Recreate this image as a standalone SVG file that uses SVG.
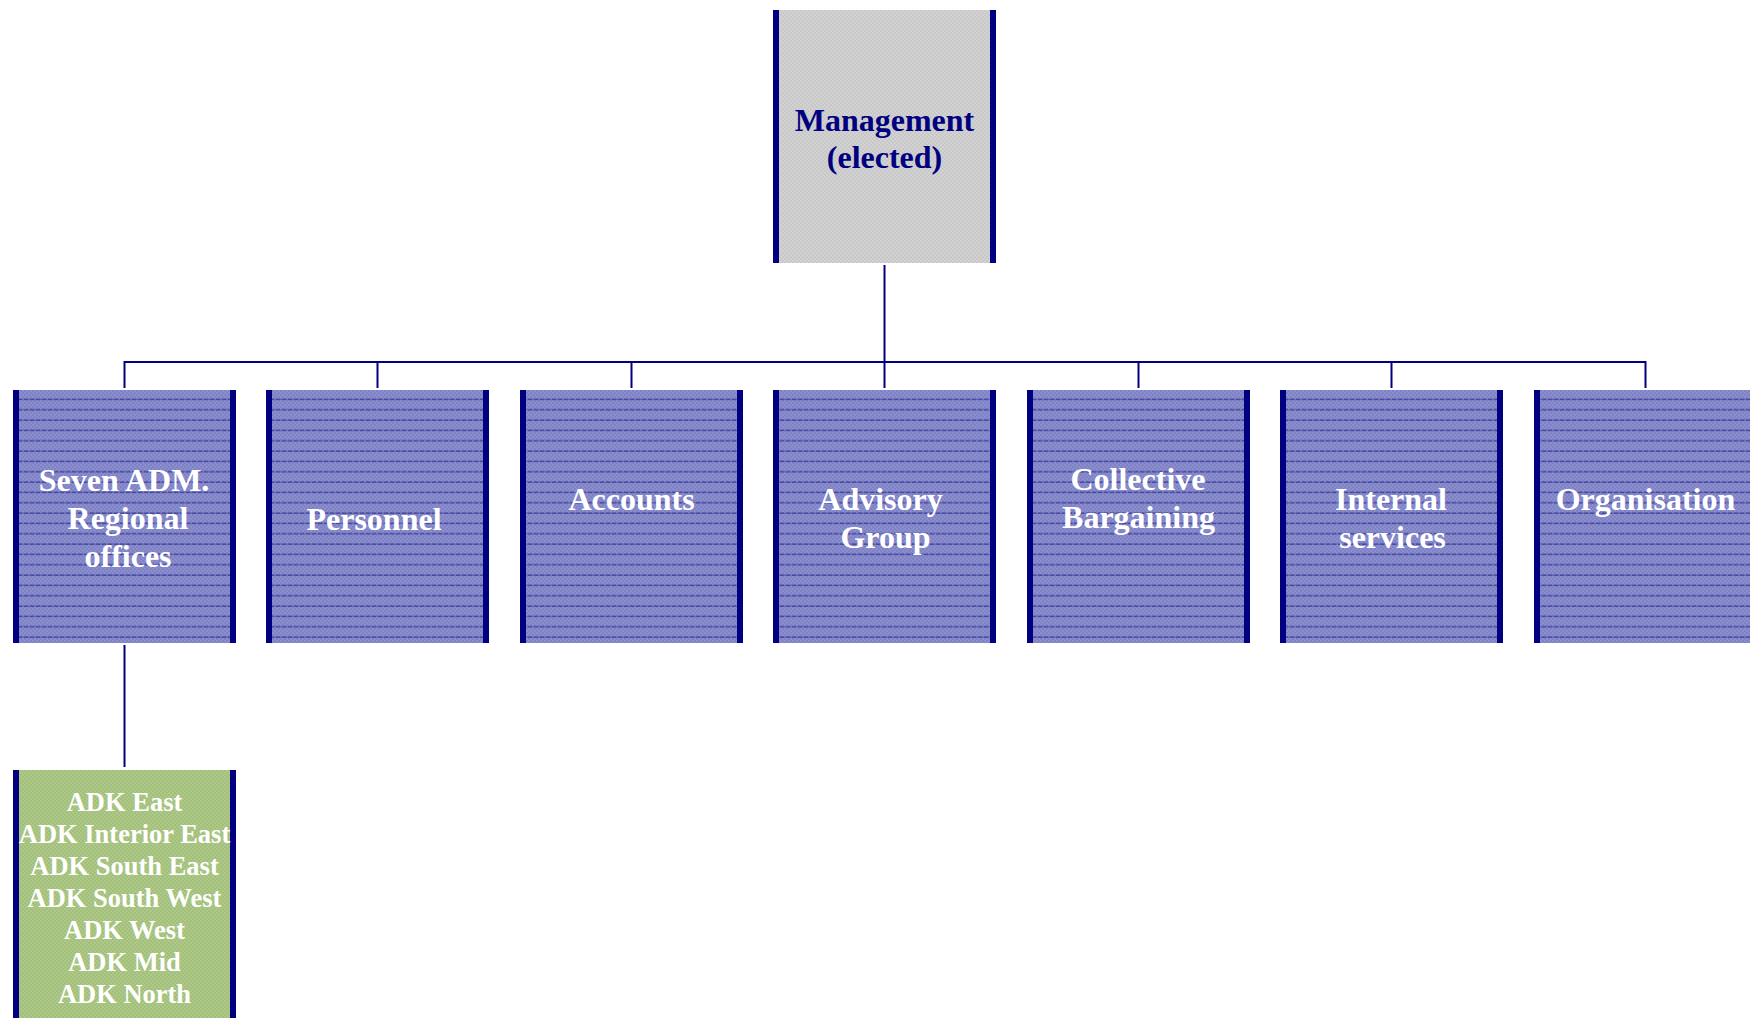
<svg xmlns="http://www.w3.org/2000/svg" width="1750" height="1018" viewBox="0 0 1750 1018">
  <style>
    .bar { fill: #000080; }
    .conn { stroke: #000080; stroke-width: 2; fill: none; }
    .t { font-family: "Liberation Serif", "Times New Roman", serif; font-weight: bold; text-anchor: middle; }
    .tw { fill: #ffffff; font-size: 32px; }
    .tn { fill: #000080; font-size: 32px; }
    .tg { fill: #ffffff; font-size: 26.5px; }
  </style>
  <defs>
    <pattern id="chkBlue" width="4" height="4" patternUnits="userSpaceOnUse">
      <rect width="4" height="4" fill="#7f83c6"/>
      <rect width="2" height="2" fill="#8a8ecd"/>
      <rect x="2" y="2" width="2" height="2" fill="#8a8ecd"/>
    </pattern>
    <pattern id="linesBlue" width="6" height="10.333" patternUnits="userSpaceOnUse">
      <rect x="0" y="6.2" width="4.5" height="1.1" fill="#2c2c8e"/>
      <rect x="4.5" y="6.2" width="1.5" height="1.1" fill="#6062b4"/>
    </pattern>
    <pattern id="chkGreen" width="4" height="4" patternUnits="userSpaceOnUse">
      <rect width="4" height="4" fill="#a3c07b"/>
      <rect width="2" height="2" fill="#adc888"/>
      <rect x="2" y="2" width="2" height="2" fill="#adc888"/>
    </pattern>
    <pattern id="chkGray" width="4" height="4" patternUnits="userSpaceOnUse">
      <rect width="4" height="4" fill="#c8c8c8"/>
      <rect width="2" height="2" fill="#d2d2d2"/>
      <rect x="2" y="2" width="2" height="2" fill="#d2d2d2"/>
    </pattern>
  </defs>

  <g id="connectors">
    <line class="conn" x1="884.5" y1="265" x2="884.5" y2="362"/>
    <polyline class="conn" points="124.5,388 124.5,362 1645.5,362 1645.5,388"/>
    <line class="conn" x1="377.5" y1="362" x2="377.5" y2="388"/>
    <line class="conn" x1="631.5" y1="362" x2="631.5" y2="388"/>
    <line class="conn" x1="884.5" y1="362" x2="884.5" y2="388"/>
    <line class="conn" x1="1138.5" y1="362" x2="1138.5" y2="388"/>
    <line class="conn" x1="1391.5" y1="362" x2="1391.5" y2="388"/>
    <line class="conn" x1="124.5" y1="645" x2="124.5" y2="767"/>
  </g>

  <g id="management">
    <rect x="773" y="10" width="223" height="253" fill="url(#chkGray)"/>
    <rect class="bar" x="773" y="10" width="6" height="253"/>
    <rect class="bar" x="990" y="10" width="6" height="253"/>
    <text class="t tn" x="884.5" y="131">Management</text>
    <text class="t tn" x="884.5" y="168">(elected)</text>
  </g>

  <g id="regional">
    <rect x="13" y="390" width="223" height="253" fill="url(#chkBlue)"/>
    <rect x="13" y="390" width="223" height="253" fill="url(#linesBlue)"/>
    <rect class="bar" x="13" y="390" width="6" height="253"/>
    <rect class="bar" x="230" y="390" width="6" height="253"/>
    <text class="t tw" x="124" y="491">Seven ADM.</text>
    <text class="t tw" x="128" y="529">Regional</text>
    <text class="t tw" x="128" y="567">offices</text>
  </g>

  <g id="personnel">
    <rect x="266" y="390" width="223" height="253" fill="url(#chkBlue)"/>
    <rect x="266" y="390" width="223" height="253" fill="url(#linesBlue)"/>
    <rect class="bar" x="266" y="390" width="6" height="253"/>
    <rect class="bar" x="483" y="390" width="6" height="253"/>
    <text class="t tw" x="374" y="529.5">Personnel</text>
  </g>

  <g id="accounts">
    <rect x="520" y="390" width="223" height="253" fill="url(#chkBlue)"/>
    <rect x="520" y="390" width="223" height="253" fill="url(#linesBlue)"/>
    <rect class="bar" x="520" y="390" width="6" height="253"/>
    <rect class="bar" x="737" y="390" width="6" height="253"/>
    <text class="t tw" x="631.5" y="509.5">Accounts</text>
  </g>

  <g id="advisory">
    <rect x="773" y="390" width="223" height="253" fill="url(#chkBlue)"/>
    <rect x="773" y="390" width="223" height="253" fill="url(#linesBlue)"/>
    <rect class="bar" x="773" y="390" width="6" height="253"/>
    <rect class="bar" x="990" y="390" width="6" height="253"/>
    <text class="t tw" x="880.5" y="509.5">Advisory</text>
    <text class="t tw" x="885.5" y="547.5">Group</text>
  </g>

  <g id="collective">
    <rect x="1027" y="390" width="223" height="253" fill="url(#chkBlue)"/>
    <rect x="1027" y="390" width="223" height="253" fill="url(#linesBlue)"/>
    <rect class="bar" x="1027" y="390" width="6" height="253"/>
    <rect class="bar" x="1244" y="390" width="6" height="253"/>
    <text class="t tw" x="1138" y="490">Collective</text>
    <text class="t tw" x="1138.5" y="528">Bargaining</text>
  </g>

  <g id="internal">
    <rect x="1280" y="390" width="223" height="253" fill="url(#chkBlue)"/>
    <rect x="1280" y="390" width="223" height="253" fill="url(#linesBlue)"/>
    <rect class="bar" x="1280" y="390" width="6" height="253"/>
    <rect class="bar" x="1497" y="390" width="6" height="253"/>
    <text class="t tw" x="1391" y="509.5">Internal</text>
    <text class="t tw" x="1392.5" y="548">services</text>
  </g>

  <g id="organisation">
    <rect x="1534" y="390" width="223" height="253" fill="url(#chkBlue)"/>
    <rect x="1534" y="390" width="223" height="253" fill="url(#linesBlue)"/>
    <rect class="bar" x="1534" y="390" width="6" height="253"/>
    <rect class="bar" x="1751" y="390" width="6" height="253"/>
    <text class="t tw" x="1645.5" y="509.5">Organisation</text>
  </g>

  <g id="adk-offices">
    <rect x="13" y="770" width="223" height="260" fill="url(#chkGreen)"/>
    <rect class="bar" x="13" y="770" width="6" height="260"/>
    <rect class="bar" x="230" y="770" width="6" height="260"/>
    <text class="t tg" x="124.5" y="811">ADK East</text>
    <text class="t tg" x="124.5" y="843">ADK Interior East</text>
    <text class="t tg" x="124.5" y="875">ADK South East</text>
    <text class="t tg" x="124.5" y="907">ADK South West</text>
    <text class="t tg" x="124.5" y="939">ADK West</text>
    <text class="t tg" x="124.5" y="971">ADK Mid</text>
    <text class="t tg" x="124.5" y="1003">ADK North</text>
  </g>
</svg>
